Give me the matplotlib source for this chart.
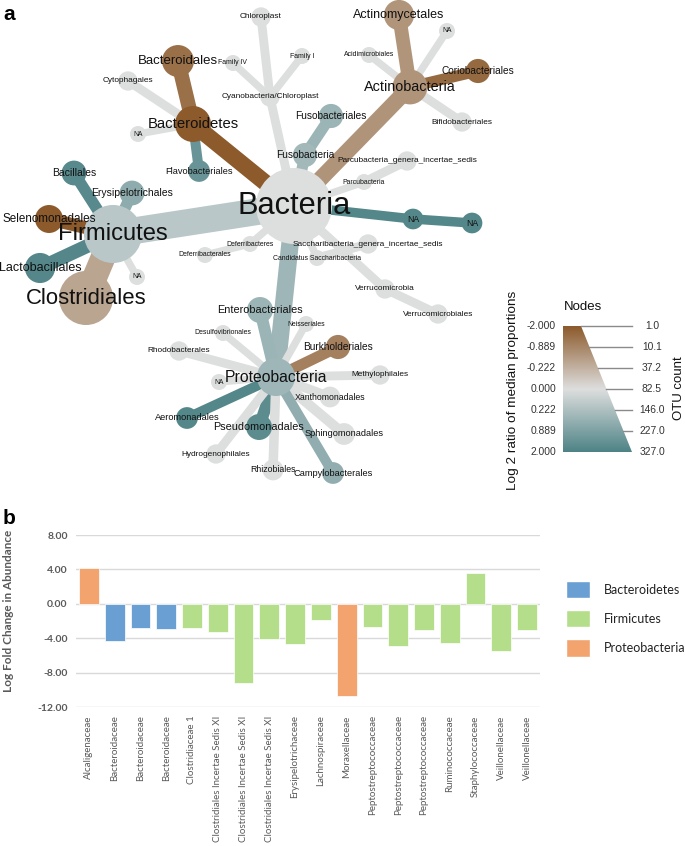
import numpy as np
import matplotlib.pyplot as plt
from matplotlib.patches import Circle, Polygon, Patch
from matplotlib.colors import LinearSegmentedColormap

# ---------------- panel a: heat tree data ----------------
taxa = ["Bacteria", "Firmicutes", "Clostridiales", "Lactobacillales", "Selenomonadales",
        "Bacillales", "Erysipelotrichales", "NA", "Bacteroidetes", "Bacteroidales",
        "Cytophagales", "NA", "Flavobacteriales", "Cyanobacteria/Chloroplast", "Chloroplast",
        "Family IV", "Family I", "Fusobacteria", "Fusobacteriales", "Actinobacteria",
        "Actinomycetales", "NA", "Acidimicrobiales", "Coriobacteriales", "Bifidobacteriales",
        "Parcubacteria", "Parcubacteria_genera_incertae_sedis", "NA", "NA",
        "Candidatus Saccharibacteria", "Saccharibacteria_genera_incertae_sedis",
        "Verrucomicrobia", "Verrucomicrobiales", "Deferribacteres", "Deferribacterales",
        "Proteobacteria", "Enterobacteriales", "Neisseriales", "Desulfovibrionales",
        "Rhodobacterales", "Burkholderiales", "Methylophilales", "NA", "Xanthomonadales",
        "Aeromonadales", "Pseudomonadales", "Sphingomonadales", "Hydrogenophilales",
        "Rhizobiales", "Campylobacterales"]
parent = [-1, 0, 1, 1, 1, 1, 1, 1, 0, 8, 8, 8, 8, 0, 13, 13, 13, 0, 17, 0,
          19, 19, 19, 19, 19, 0, 25, 0, 27, 0, 29, 0, 31, 0, 33,
          0, 35, 35, 35, 35, 35, 35, 35, 35, 35, 35, 35, 35, 35, 35]
log2_ratio = [0, 0.13, -0.37, 1.8, -2.0, 1.7, 0.6, 0, -2.0, -1.38,
              0, 0, 1.3, 0, 0, 0, 0, 0.35, 0.43, -0.63,
              -0.6, 0, 0, -1.55, 0, 0, 0, 1.84, 1.84, 0, 0, 0, 0, 0, 0,
              0.37, 0.43, 0, 0, 0, -1.0, 0, 0, 0, 1.84, 1.6, 0, 0, 0, 0.58]
otu_count = [327, 161, 132, 19, 14, 8, 8, 1, 37, 24,
             2, 1, 4, 2, 2, 1, 1, 7, 7, 33,
             19, 1, 1, 7, 2, 1, 2, 3, 3, 1, 2, 2, 2, 1, 1,
             45, 10, 1, 1, 2, 7, 2, 1, 3, 4, 10, 4, 2, 3, 4]

# node layout of the heat tree (pixel space of the figure)
node_x = [294, 113, 86, 40, 49, 74, 132, 137, 193, 178,
          128, 138, 199, 270, 261, 233, 302, 305, 331, 410,
          399, 447, 369, 478, 462, 364, 407, 413, 472, 317, 368, 385, 438, 250, 205,
          276, 260, 306, 223, 179, 338, 380, 219, 330, 187, 259, 344, 216, 273, 333]
node_y = [206, 234, 298, 268, 219, 173, 193, 277, 124, 61,
          81, 134, 171, 97, 17, 63, 56, 155, 116, 87,
          15, 31, 55, 71, 122, 182, 161, 219, 223, 258, 244, 289, 314, 244, 255,
          377, 310, 324, 333, 351, 347, 375, 382, 397, 418, 427, 434, 454, 470, 473]

ratio_ticks = ["-2.000", "-0.889", "-0.222", "0.000", "0.222", "0.889", "2.000"]
count_ticks = ["1.0", "10.1", "37.2", "82.5", "146.0", "227.0", "327.0"]

# ---------------- panel b: bar chart data ----------------
families = ["Alcaligenaceae", "Bacteroidaceae", "Bacteroidaceae", "Bacteroidaceae",
            "Clostridiaceae 1", "Clostridiales Incertae Sedis XI",
            "Clostridiales Incertae Sedis XI", "Clostridiales Incertae Sedis XI",
            "Erysipelotrichaceae", "Lachnospiraceae", "Moraxellaceae",
            "Peptostreptococcaceae", "Peptostreptococcaceae", "Peptostreptococcaceae",
            "Ruminococcaceae", "Staphylococcaceae", "Veillonellaceae", "Veillonellaceae"]
log_fold = [4.2, -4.3, -2.85, -2.95, -2.8, -3.3, -9.25, -4.05, -4.7, -1.9,
            -10.7, -2.65, -4.85, -3.0, -4.6, 3.55, -5.45, -3.0]
phylum = ["Proteobacteria", "Bacteroidetes", "Bacteroidetes", "Bacteroidetes",
          "Firmicutes", "Firmicutes", "Firmicutes", "Firmicutes", "Firmicutes",
          "Firmicutes", "Proteobacteria", "Firmicutes", "Firmicutes", "Firmicutes",
          "Firmicutes", "Firmicutes", "Firmicutes", "Firmicutes"]
phyla = ["Bacteroidetes", "Firmicutes", "Proteobacteria"]
phylum_colors = {"Bacteroidetes": "#6A9FD3", "Firmicutes": "#B4DE89",
                 "Proteobacteria": "#F3A46E"}

W, H = 685, 846
fig = plt.figure(figsize=(W / 100, H / 100), dpi=100)

cmap = LinearSegmentedColormap.from_list("heat", ["#8C5A2B", "#DEDEDE", "#4E8386"])


def node_color(v):
    t = np.sign(v) * np.sqrt(abs(v) / 2.0)
    return cmap((t + 1) / 2)


def node_radius(n):
    return 8 + 30 * np.sqrt((n - 1) / 326.0)


def edge_poly(x0, y0, x1, y1, w):
    d = np.array([x1 - x0, y1 - y0], float)
    d /= np.hypot(*d)
    p = np.array([-d[1], d[0]]) * w / 2
    return [(x0 + p[0], y0 + p[1]), (x1 + p[0], y1 + p[1]),
            (x1 - p[0], y1 - p[1]), (x0 - p[0], y0 - p[1])]


ax = fig.add_axes([0, 0, 1, 1])
ax.set_xlim(0, W)
ax.set_ylim(H, 0)
ax.axis("off")

radii = [node_radius(n) for n in otu_count]

# edges
for i, p in enumerate(parent):
    if p < 0:
        continue
    poly = edge_poly(node_x[p], node_y[p], node_x[i], node_y[i], 0.92 * radii[i])
    ax.add_patch(Polygon(poly, closed=True, color=node_color(log2_ratio[i]), lw=0, zorder=1))

# nodes
for i in range(len(taxa)):
    ax.add_patch(Circle((node_x[i], node_y[i]), radii[i], color=node_color(log2_ratio[i]),
                        lw=0, zorder=2))

# labels
for i, name in enumerate(taxa):
    fs = (0.8 * radii[i] + 0.5) * 0.72
    ax.text(node_x[i], node_y[i], name, ha="center", va="center", fontsize=fs,
            family="Liberation Sans", color="#111111", zorder=3)

# legend for the heat tree
lx0, lx1, ly0, ly1, ltop = 563, 632, 326, 452, 581
shape = Polygon([(lx0, ly0), (ltop, ly0), (lx1, ly1), (lx0, ly1)], closed=True,
                facecolor="none", edgecolor="none")
ax.add_patch(shape)
grad = np.linspace(0, 1, 256).reshape(-1, 1)
im = ax.imshow(grad, cmap=cmap, aspect="auto", extent=(lx0, lx1, ly1, ly0),
               origin="upper", zorder=2)
im.set_clip_path(shape)
ax.set_xlim(0, W)
ax.set_ylim(H, 0)
for k, (rt, ct) in enumerate(zip(ratio_ticks, count_ticks)):
    yy = ly0 + k * (ly1 - ly0) / 6
    xx = ltop + k * (lx1 - ltop) / 6
    ax.plot([xx, lx1], [yy, yy], color="#8a8a8a", lw=1.0, zorder=3)
    ax.text(556, yy, rt, ha="right", va="center", fontsize=7.4,
            family="Liberation Sans", color="#333333")
    ax.text(652, yy, ct, ha="center", va="center", fontsize=7.4,
            family="Liberation Sans", color="#333333")
ax.text(583, 307, "Nodes", ha="center", va="center", fontsize=9.5,
        family="Liberation Sans", color="#111111")
ax.text(513, 390, "Log 2 ratio of median proportions", rotation=90, ha="center",
        va="center", fontsize=9.7, family="Liberation Sans", color="#111111")
ax.text(679, 388, "OTU count", rotation=90, ha="center", va="center", fontsize=9.5,
        family="Liberation Sans", color="#111111")

ax.text(3, 14, "a", fontsize=15, fontweight="bold", family="Liberation Sans",
        va="center", ha="left")
ax.text(3, 518, "b", fontsize=15, fontweight="bold", family="Liberation Sans",
        va="center", ha="left")

# ---------------- panel b ----------------
bx0, bx1, by_top, by_bot = 76, 540, 535, 707
ax2 = fig.add_axes([bx0 / W, 1 - by_bot / H, (bx1 - bx0) / W, (by_bot - by_top) / H])
xpos = np.arange(len(families))
ax2.bar(xpos, log_fold, width=0.77, color=[phylum_colors[p] for p in phylum],
        edgecolor="white", linewidth=0.5, zorder=2)
ax2.set_xlim(-0.5, len(families) - 0.5)
ax2.set_ylim(-12, 8)
yt = [8, 4, 0, -4, -8, -12]
ax2.set_yticks(yt)
ax2.set_yticklabels(["%.2f" % v for v in yt], fontsize=7.5, fontweight="bold",
                    color="#595959", family="Lato")
ax2.grid(axis="y", color="#d9d9d9", lw=1.0, zorder=0)
ax2.set_axisbelow(True)
ax2.set_xticks(xpos)
ax2.set_xticklabels(families, rotation=90, fontsize=7, color="#595959", family="Lato",
                    va="top")
ax2.tick_params(length=0, pad=6)
for s in ax2.spines.values():
    s.set_visible(False)
ax2.set_ylabel("Log Fold Change in Abundance", fontsize=8.5, fontweight="bold",
               color="#595959", family="Lato")
ax2.yaxis.set_label_coords(-0.133, 0.56)

handles = [Patch(facecolor=phylum_colors[p], edgecolor="white") for p in phyla]
fig.legend(handles, phyla, loc="upper left", bbox_to_anchor=(566 / W, 1 - 581 / H),
           frameon=False, prop={"family": "Lato", "size": 9}, handlelength=1.95,
           handleheight=1.75, labelspacing=0.95, handletextpad=1.1, borderpad=0,
           borderaxespad=0, labelcolor="#222222")

fig.savefig("out.png", dpi=100)
